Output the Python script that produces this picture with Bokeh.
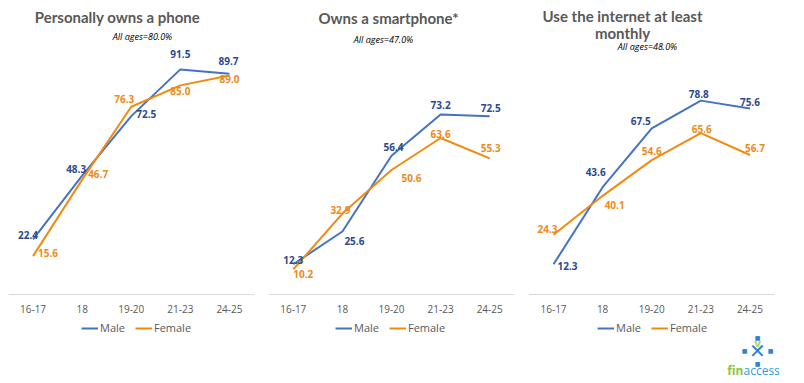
from bokeh.plotting import figure
from bokeh.models import ColumnDataSource, LabelSet, Label, Legend, LegendItem, Range1d, FactorRange
from bokeh.core.properties import value
from bokeh.embed import file_html
from bokeh.resources import INLINE

# ---------------- data ----------------
ages = ["16-17", "18", "19-20", "21-23", "24-25"]

phone_male = [22.4, 48.3, 72.5, 91.5, 89.7]
phone_female = [15.6, 46.7, 76.3, 85.0, 89.0]

smart_male = [12.3, 25.6, 56.4, 73.2, 72.5]
smart_female = [10.2, 32.9, 50.6, 63.6, 55.3]

internet_male = [12.3, 43.6, 67.5, 78.8, 75.6]
internet_female = [24.3, 40.1, 54.6, 65.6, 56.7]

titles = [["Personally owns a phone"], ["Owns a smartphone*"], ["Use the internet at least", "monthly"]]
subtitles = ["All ages=80.0%", "All ages=47.0%", "All ages=48.0%"]

# ---------------- styling ----------------
MALE_LINE = "#4472C4"
MALE_TEXT = "#2B4A8E"
FEMALE_LINE = "#F28A0F"
FEMALE_TEXT = "#EE8A1A"
GREY = "#595959"
FONT = "Open Sans"

panel_keys = [" ", "  ", "   "]   # blank group keys -> no visible group labels

offsets = [
    dict(mdx=[-5, -6, 15, 0, -1], mdy=[4, 7, 2, 15, 13], fdx=[15, 16, -7, 0, 0], fdy=[3, 6, 8, -6, -3]),
    dict(mdx=[0, 12, 2, 0, 1], mdy=[4, -9, 9, 9, 8], fdx=[10, -2, 20, 0, 1], fdy=[-5, 4, -8, 4, 10]),
    dict(mdx=[14, -7, -11, -2, 0], mdy=[-2, 15, 7, 7, 7], fdx=[-6, 12, 0, 1, 5], fdy=[6, -9, 9, 4, 7]),
]
title_pos = [[(117, 364)], [(388, 363)], [(622, 365), (622, 348)]]
sub_pos = [(142, 344), (383, 341), (647, 334)]
legend_pos = [(81, 45), (335, 45), (597, 45)]

series = [(phone_male, phone_female), (smart_male, smart_female), (internet_male, internet_female)]

factors = [(k, a) for k in panel_keys for a in ages]
p = figure(x_range=FactorRange(*factors, range_padding=0.163, range_padding_units="absolute",
                               factor_padding=0, group_padding=0.3),
           y_range=Range1d(-34.96, 119.5),
           width=800, height=380, output_backend="svg", toolbar_location=None,
           y_axis_location=None,
           min_border_left=0, min_border_right=18, min_border_top=0, min_border_bottom=0)
p.title.visible = False
p.outline_line_color = None
p.grid.visible = False
p.xaxis.fixed_location = 0
p.xaxis.axis_line_color = None
p.xaxis.major_tick_line_color = None
p.xaxis.minor_tick_line_color = None
p.xaxis.separator_line_color = None
p.xaxis.major_label_text_font = FONT
p.xaxis.major_label_text_font_size = "10px"
p.xaxis.major_label_text_color = GREY
p.xaxis.major_label_standoff = 5
p.xaxis.group_text_font_size = "1px"
p.xaxis.group_text_color = "white"

# per-panel baseline (axis line) spanning the panel's categories
p.segment(x0=[(k, ages[0], -0.5) for k in panel_keys], x1=[(k, ages[-1], 0.5) for k in panel_keys],
          y0=[0, 0, 0], y1=[0, 0, 0], line_color="#D9D9D9", line_width=1)

for i, (m, f) in enumerate(series):
    o = offsets[i]
    src = ColumnDataSource(dict(x=[(panel_keys[i], a) for a in ages], m=m, f=f,
                                mt=[f"{v:.1f}" for v in m], ft=[f"{v:.1f}" for v in f],
                                mdx=o["mdx"], mdy=o["mdy"], fdx=o["fdx"], fdy=o["fdy"]))
    rm = p.line("x", "m", source=src, line_color=MALE_LINE, line_width=2)
    rf = p.line("x", "f", source=src, line_color=FEMALE_LINE, line_width=2)
    for col, ycol, dx, dy, colr in [("mt", "m", "mdx", "mdy", MALE_TEXT), ("ft", "f", "fdx", "fdy", FEMALE_TEXT)]:
        p.add_layout(LabelSet(x="x", y=ycol, text=col, source=src, x_offset=dx, y_offset=dy,
                              text_align="center", text_baseline="middle",
                              text_font=value(FONT), text_font_size="10px", text_font_style="bold",
                              text_color=colr))
    legend = Legend(items=[LegendItem(label="Male", renderers=[rm]),
                           LegendItem(label="Female", renderers=[rf])],
                    orientation="horizontal", location=legend_pos[i],
                    glyph_width=17, glyph_height=12, label_standoff=2, spacing=10,
                    padding=0, margin=0, border_line_color=None, background_fill_alpha=0,
                    label_text_font=FONT, label_text_font_size="11px", label_text_color=GREY)
    p.add_layout(legend)
    for txt, (tx, ty) in zip(titles[i], title_pos[i]):
        p.add_layout(Label(x=tx, y=ty, x_units="screen", y_units="screen", text=txt,
                           text_align="center", text_baseline="middle",
                           text_font="Lato", text_font_size="15px", text_font_style="bold",
                           text_color=GREY))
    sx, sy = sub_pos[i]
    p.add_layout(Label(x=sx, y=sy, x_units="screen", y_units="screen", text=subtitles[i],
                       text_align="center", text_baseline="middle",
                       text_font=FONT, text_font_size="9px", text_font_style="italic",
                       text_color="black"))

# logo (finaccess)
LOGO_BLUE = "#2A84CF"
LX, LY = 757, 30
p.add_layout(Label(x=LX, y=LY, x_units="screen", y_units="screen", text="\u2715",
                   text_align="center", text_baseline="middle", text_font="DejaVu Sans",
                   text_font_size="20px", text_color=LOGO_BLUE))
p.add_layout(Label(x=LX, y=LY + 7, x_units="screen", y_units="screen", text="v",
                   text_align="center", text_baseline="middle", text_font="DejaVu Sans",
                   text_font_size="11px", text_font_style="bold", text_color="#A8D66A"))
for dx, dy in [(0, 13), (0, -13), (13, 0), (-13, 0)]:
    p.add_layout(Label(x=LX + dx, y=LY + dy, x_units="screen", y_units="screen", text="\u25A0",
                       text_align="center", text_baseline="middle", text_font="DejaVu Sans",
                       text_font_size="6px", text_color=LOGO_BLUE))
p.add_layout(Label(x=743, y=10, x_units="screen", y_units="screen", text="fin",
                   text_align="right", text_baseline="middle", text_font=FONT,
                   text_font_size="12px", text_font_style="bold", text_color="#8CC63F"))
p.add_layout(Label(x=743, y=10, x_units="screen", y_units="screen", text="access",
                   text_align="left", text_baseline="middle", text_font=FONT,
                   text_font_size="12px", text_color="#2B9BDB"))

open("out.html", "w").write(file_html(p, INLINE))
